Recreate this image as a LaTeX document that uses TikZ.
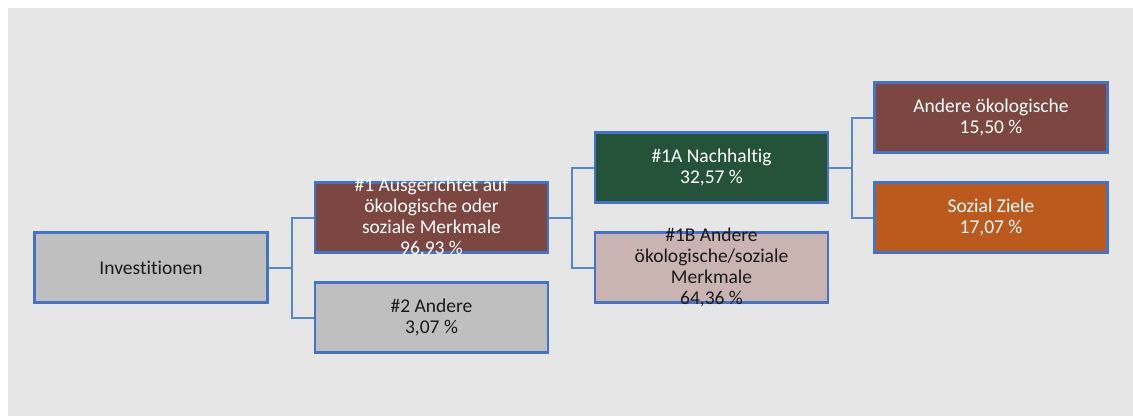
\documentclass[tikz,border=0pt]{standalone}
\usepackage{fontspec}
\setmainfont[Ligatures=NoCommon]{Carlito}
\definecolor{bg}{HTML}{E6E6E6}
\definecolor{bord}{HTML}{4472C4}
\definecolor{conn}{HTML}{5687C8}
\definecolor{grayfill}{HTML}{BFBFBF}
\definecolor{brown}{HTML}{7B4740}
\definecolor{dgreen}{HTML}{245339}
\definecolor{pink}{HTML}{C9B4B1}
\definecolor{orange}{HTML}{BC5A1E}
\definecolor{dtext}{HTML}{1A1A1A}
\tikzset{
  box/.style={draw=bord, line width=2.2pt, minimum width=233pt, minimum height=70pt, inner sep=0pt},
  txt/.style={align=center, font=\fontsize{19.5}{21}\selectfont, inner sep=0pt},
  wtxt/.style={txt, text=white},
  ktxt/.style={txt, text=dtext},
  conline/.style={draw=conn, line width=2pt}
}
\begin{document}
\begin{tikzpicture}[x=1pt,y=1pt]
\useasboundingbox (0,0) rectangle (1133,416);
\fill[white] (0,0) rectangle (1133,416);
\fill[bg] (8,0) rectangle (1133,408);
% boxes
\node[box, fill=grayfill] (inv) at (151,148.5) {};
\node[box, fill=brown] (n1) at (431.5,198.5) {};
\node[box, fill=grayfill] (n2) at (431.5,98.5) {};
\node[box, fill=dgreen] (n1a) at (711.5,248.5) {};
\node[box, fill=pink] (n1b) at (711.5,148.5) {};
\node[box, fill=brown] (ao) at (991,298.5) {};
\node[box, fill=orange] (sz) at (991,198.5) {};
% texts
\node[ktxt] (tinv) at (inv) {Investitionen};
\node[wtxt] (tn1) at (n1) {\#1 Ausgerichtet auf\\ökologische oder\\soziale Merkmale\\96,93 \%};
\node[ktxt] (tn2) at (n2) {\#2 Andere\\3,07 \%};
\node[wtxt] (tn1a) at (n1a) {\#1A Nachhaltig\\32,57 \%};
\node[ktxt] (tn1b) at (n1b) {\#1B Andere\\ökologische/soziale\\Merkmale\\64,36 \%};
\node[wtxt] (tao) at (ao) {Andere ökologische\\15,50 \%};
\node[wtxt] (tsz) at (sz) {Sozial Ziele\\17,07 \%};
% connectors
\coordinate (j1) at (291.5,148.5);
\coordinate (j2) at (571.5,198.5);
\coordinate (j3) at (851.5,248.5);
\draw[conline] (inv.east) -- (j1);
\draw[conline] (n1.west) -| (j1) |- (n2.west);
\draw[conline] (n1.east) -- (j2);
\draw[conline] (n1a.west) -| (j2) |- (n1b.west);
\draw[conline] (n1a.east) -- (j3);
\draw[conline] (ao.west) -| (j3) |- (sz.west);
\end{tikzpicture}
\end{document}
